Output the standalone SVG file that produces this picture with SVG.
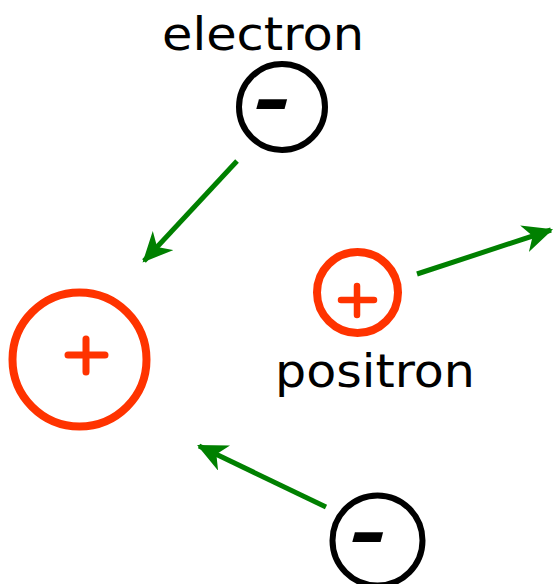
<svg xmlns="http://www.w3.org/2000/svg" width="554" height="584" viewBox="0 0 554 584">
<style>
.lbl{font-family:"Comic Sans MS","DejaVu Sans","Noto Sans",sans-serif;font-size:46px;fill:#000}
.neg{fill:none;stroke:#000;stroke-width:6}
.pos{fill:none;stroke:#ff3300}
.plus{stroke:#ff3300;stroke-linecap:round;fill:none}
.minus{font-family:"DejaVu Sans",sans-serif;font-weight:bold;font-style:oblique;font-size:80px;fill:#000;text-anchor:middle}
.arr{stroke:#008000;stroke-width:5;fill:none;marker-end:url(#ah)}
</style>
<defs>
<marker id="ah" viewBox="0 0 28 26" refX="26" refY="13" markerWidth="30" markerHeight="28" markerUnits="userSpaceOnUse" orient="auto">
<path d="M0,0 L28,13 L0,26 L8,13 z" fill="#008000"/>
</marker>
</defs>
<g id="electron-top">
<circle class="neg" cx="282" cy="107" r="43"/>
<text class="minus" x="273" y="128" transform="translate(273,104) scale(1.15,0.85) translate(-273,-104)">-</text>
<text class="lbl" x="162" y="50" textLength="202" lengthAdjust="spacingAndGlyphs">electron</text>
</g>
<g id="nucleus">
<circle class="pos" cx="79.5" cy="359.5" r="67" stroke-width="8"/>
<path class="plus" stroke-width="7" d="M68,355 H105 M86,339 V372"/>
</g>
<g id="positron">
<circle class="pos" cx="357.5" cy="292.5" r="40.5" stroke-width="8"/>
<path class="plus" stroke-width="6.5" d="M341,300 H374 M357,286 V315"/>
<text class="lbl" x="275" y="387" textLength="200" lengthAdjust="spacingAndGlyphs">positron</text>
</g>
<g id="electron-bottom">
<circle class="neg" cx="377.5" cy="540.5" r="45"/>
<text class="minus" x="369" y="561" transform="translate(369,537) scale(1.15,0.85) translate(-369,-537)">-</text>
</g>
<g id="connectors">
<line class="arr" x1="237" y1="161" x2="144" y2="261"/>
<line class="arr" x1="417" y1="274" x2="551" y2="230"/>
<line class="arr" x1="326" y1="507" x2="199" y2="446"/>
</g>
</svg>
